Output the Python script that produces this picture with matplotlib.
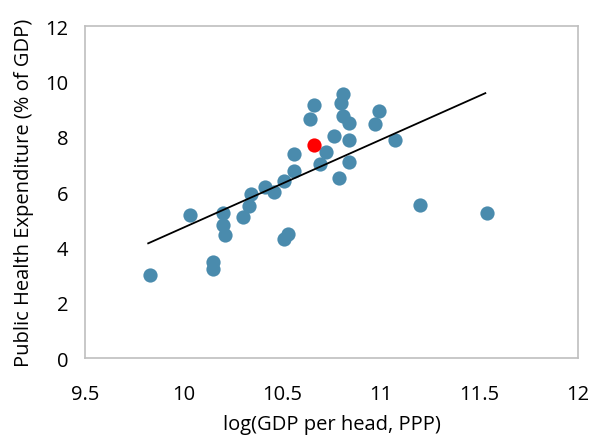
import numpy as np
import matplotlib
matplotlib.use("Agg")
import matplotlib.pyplot as plt

plt.rcParams['font.family'] = ['Open Sans', 'DejaVu Sans']

# log GDP per head (PPP) vs public health spending, % of GDP
gdp = [9.83, 10.03, 10.15, 10.15, 10.20, 10.20, 10.21, 10.30, 10.33, 10.34,
       10.41, 10.46, 10.51, 10.51, 10.53, 10.56, 10.56, 10.64, 10.66, 10.69,
       10.72, 10.76, 10.79, 10.80, 10.81, 10.81, 10.84, 10.84, 10.84, 10.97,
       10.99, 11.07, 11.20, 11.54]
health = [3.0, 5.17, 3.48, 3.22, 5.24, 4.81, 4.46, 5.10, 5.50, 5.95,
          6.17, 6.00, 6.39, 4.30, 4.47, 6.75, 7.38, 8.66, 9.15, 7.02,
          7.46, 8.03, 6.52, 9.24, 9.54, 8.75, 8.50, 7.88, 7.08, 8.45,
          8.94, 7.88, 5.52, 5.24]

# highlighted country
hl_gdp = [10.66]
hl_health = [7.70]

# trend line ends
trend_x = [9.82, 11.53]
trend_y = [4.15, 9.58]

fig = plt.figure(figsize=(5.91, 4.39), dpi=100)
ax = fig.add_axes([0.144, 0.182, 0.834, 0.756])

ax.scatter(gdp, health, s=105, color='#4a8bad', linewidths=0, zorder=2)
ax.plot(trend_x, trend_y, color='black', lw=1.3, zorder=3)
ax.scatter(hl_gdp, hl_health, s=105, color='#ff0000', linewidths=0, zorder=4)

ax.set_xlim(9.5, 12)
ax.set_ylim(0, 12)
ax.set_xticks([9.5, 10, 10.5, 11, 11.5, 12])
ax.set_xticklabels(['9.5', '10', '10.5', '11', '11.5', '12'])
ax.set_yticks(range(0, 13, 2))
ax.tick_params(length=0, labelsize=14.5)
ax.tick_params(axis='x', pad=19)
ax.tick_params(axis='y', pad=12)
for sp in ax.spines.values():
    sp.set_color('#bfbfbf')
    sp.set_linewidth(1.2)

ax.set_xlabel('log(GDP per head, PPP)', fontsize=14.5, labelpad=7)
ax.set_ylabel('Public Health Expenditure (% of GDP)', fontsize=14.5, labelpad=8)

fig.savefig('out.png', dpi=100)
